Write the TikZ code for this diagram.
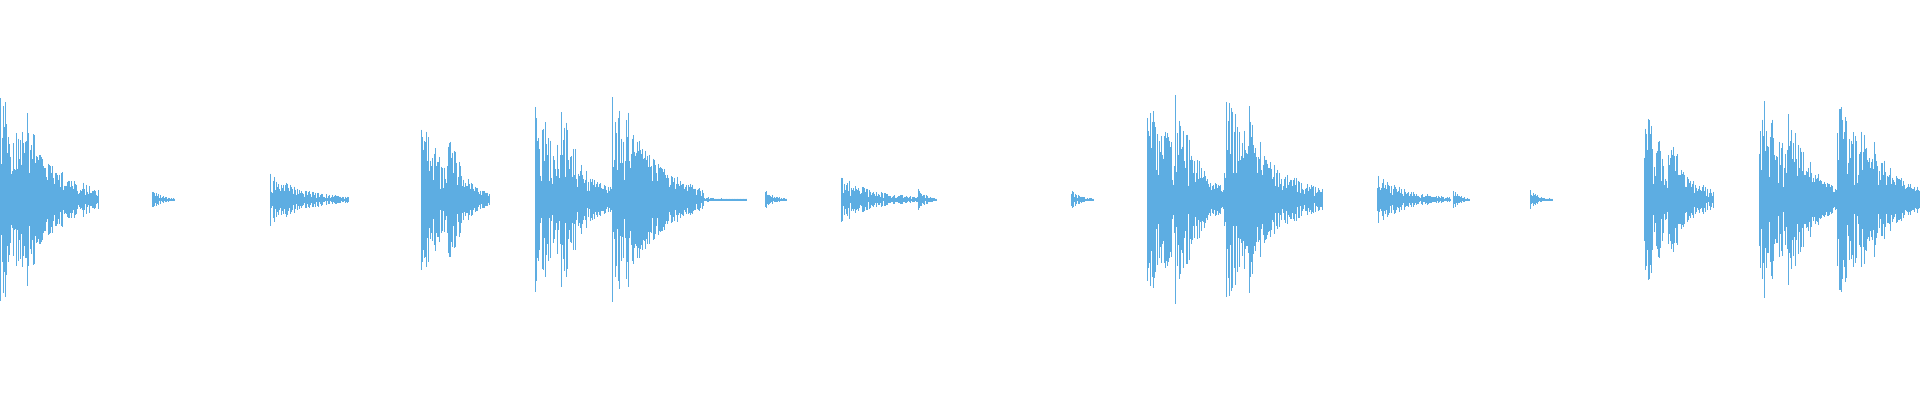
\documentclass[tikz,border=0pt]{standalone}
\definecolor{wave}{RGB}{93,173,226}
\newcommand{\burst}[3]{% start, peak amplitude, length
  \foreach \i in {0,0.6,...,#3} {
    \pgfmathsetmacro{\amp}{max(0.8,#2*exp(-2.2*\i/#3)*(0.2+0.8*rnd))}
    \draw[wavestroke] (#1+\i,163-\amp) -- (#1+\i,163+\amp);
  }
}
\begin{document}
\begin{tikzpicture}[x=1pt,y=-1pt,
  wavestroke/.style={wave,line width=0.35pt}]
  \pgfmathsetseed{7}
  \useasboundingbox (0,0) rectangle (1568,326);
  % first hit group
  \burst{0}{92}{80}
  \burst{22}{80}{40}
  \burst{124}{8}{19}
  \burst{221}{22}{64}
  \burst{344}{68}{56}
  \burst{366}{60}{30}
  \burst{437}{88}{63}
  \burst{458}{80}{40}
  \burst{500}{88}{75}
  \burst{511}{78}{60}
  \burst{570}{3}{40}
  \burst{625}{8}{18}
  \burst{687}{20}{63}
  \burst{750}{10}{15}
  \burst{875}{8}{18}
  % second hit group
  \burst{937}{98}{63}
  \burst{960}{90}{40}
  \burst{1000}{88}{80}
  \burst{1020}{80}{40}
  \burst{1125}{20}{60}
  \burst{1187}{8}{13}
  \burst{1250}{8}{18}
  \burst{1343}{76}{57}
  \burst{1362}{68}{30}
  \burst{1437}{95}{63}
  \burst{1460}{85}{40}
  \burst{1500}{88}{68}
  \burst{1520}{78}{48}
\end{tikzpicture}
\end{document}
